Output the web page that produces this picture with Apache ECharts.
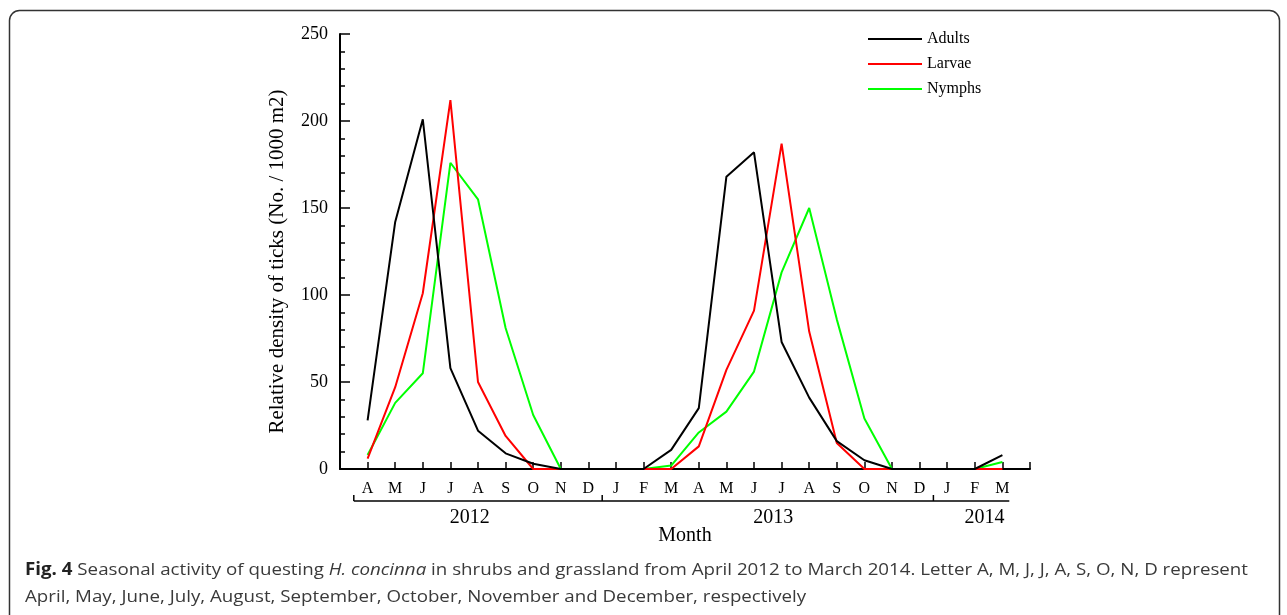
<!DOCTYPE html>
<html>
<head>
<meta charset="utf-8">
<script src="https://cdn.jsdelivr.net/npm/echarts@6/dist/echarts.min.js"></script>
<style>
html,body{margin:0;padding:0;background:#fff;}
#chart{width:1287px;height:615px;}
</style>
</head>
<body>
<div id="chart"></div>
<script>
// ---- data ----
var monthLabels = ['A','M','J','J','A','S','O','N','D','J','F','M','A','M','J','J','A','S','O','N','D','J','F','M'];
var adults = [28,142,201,58,22,9,3,0,0,0,0,11,35,168,182,73,41,16,5,0,0,0,0,8];
var larvae = [6,47,101,212,50,19,0,0,0,0,0,0,13,57,91,187,79,15,0,0,0,0,0,0];
var nymphs = [8,38,55,176,155,81,31,0,0,0,0,2,21,33,56,113,150,86,29,0,0,0,0,4];
var seriesNames = ['Adults','Larvae','Nymphs'];
var seriesColors = ['#000000','#ff0000','#00ff00'];
var yTicks = [0,50,100,150,200,250];
var yearLabels = ['2012','2013','2014'];
var yearLabelPos = [3.7, 14.7, 22.35];
var yearBreaks = [-0.5, 8.5, 20.5];
var yearEnd = 23.25;
var captionBold = 'Fig. 4';
var captionLine1a = ' Seasonal activity of questing ';
var captionItalic = 'H. concinna';
var captionLine1b = ' in shrubs and grassland from April 2012 to March 2014. Letter A, M, J, J, A, S, O, N, D represent';
var captionLine2 = 'April, May, June, July, August, September, October, November and December, respectively';

var SERIF = '"Liberation Serif", "Times New Roman", serif';
var SANS = '"Open Sans", "Noto Sans", sans-serif';

function toPairs(arr){ return arr.map(function(v,i){ return [i, v]; }); }

var chart = echarts.init(document.getElementById('chart'), null, {renderer:'canvas'});

var option = {
  animation: false,
  backgroundColor: '#ffffff',
  grid: { left: 340, right: 257, top: 34, bottom: 146, containLabel: false },
  legend: {
    data: seriesNames,
    orient: 'vertical',
    left: 868,
    top: 31,
    padding: 0,
    icon: 'rect',
    itemWidth: 54,
    itemHeight: 2,
    itemGap: 9,
    textStyle: { fontFamily: SERIF, fontSize: 16, color: '#000', lineHeight: 16 }
  },
  xAxis: {
    type: 'value',
    min: -1, max: 24, interval: 1,
    name: 'Month',
    nameLocation: 'middle',
    nameGap: 57,
    nameTextStyle: { fontFamily: SERIF, fontSize: 20, color: '#000' },
    axisLine: { show: true, onZero: false, lineStyle: { color: '#000', width: 2 } },
    axisTick: { show: true, inside: true, length: 7, lineStyle: { color: '#000', width: 1.5 } },
    axisLabel: {
      margin: 12,
      fontFamily: SERIF, fontSize: 16, color: '#000',
      showMinLabel: true, showMaxLabel: true,
      formatter: function(v){ var i = Math.round(v); return (i >= 0 && i < monthLabels.length) ? monthLabels[i] : ''; }
    },
    splitLine: { show: false }
  },
  yAxis: {
    type: 'value',
    min: 0, max: 250, interval: 50,
    name: 'Relative density of ticks (No. / 1000 m2)',
    nameLocation: 'middle',
    nameGap: 52,
    nameTextStyle: { fontFamily: SERIF, fontSize: 21, color: '#000', padding: [0, 20, 0, 0] },
    axisLine: { show: true, onZero: false, lineStyle: { color: '#000', width: 2 } },
    axisTick: { show: true, inside: true, length: 10, lineStyle: { color: '#000', width: 1.5 } },
    minorTick: { show: true, splitNumber: 5, length: 5, lineStyle: { color: '#000', width: 1.5 } },
    axisLabel: { margin: 12, fontFamily: SERIF, fontSize: 18, color: '#000',
      formatter: function(v){ return yTicks.indexOf(v) >= 0 ? String(v) : ''; } },
    splitLine: { show: false }
  },
  series: [adults, larvae, nymphs].map(function(arr, k){
    return {
      name: seriesNames[k],
      type: 'line',
      data: toPairs(arr),
      symbol: 'none',
      lineStyle: { color: seriesColors[k], width: 2 },
      itemStyle: { color: seriesColors[k] },
      z: 3 - k
    };
  })
};
chart.setOption(option);

// ---- annotations: year brackets, caption, border ----
function px(v){ return chart.convertToPixel({xAxisIndex:0}, v); }
var y0 = chart.convertToPixel({yAxisIndex:0}, 0);
var bracketY = y0 + 32;
var elements = [];
elements.push({
  type: 'line', silent: true,
  shape: { x1: px(yearBreaks[0]), y1: bracketY, x2: px(yearEnd), y2: bracketY },
  style: { stroke: '#000', lineWidth: 1.5 }
});
yearBreaks.forEach(function(b){
  elements.push({ type:'line', silent:true,
    shape: { x1: px(b), y1: bracketY, x2: px(b), y2: bracketY - 6 },
    style: { stroke:'#000', lineWidth: 1.5 } });
});
yearLabels.forEach(function(t, i){
  elements.push({ type:'text', silent:true, x: px(yearLabelPos[i]), y: bracketY + 7,
    style: { text: t, fontFamily: SERIF, fontSize: 20, fill:'#000', align:'center', verticalAlign:'top' } });
});

// caption: measure and compress horizontally to match original width
var ctx = document.createElement('canvas').getContext('2d');
var capSize = 17;
function w(txt, weight, styleI){ ctx.font = (styleI||'normal') + ' ' + (weight||'normal') + ' ' + capSize + 'px ' + SANS; return ctx.measureText(txt).width; }
var line1W = w(captionBold,'bold') + w(captionLine1a) + w(captionItalic,'normal','italic') + w(captionLine1b);
var targetW = 1223;
var sx = targetW / line1W;
elements.push({
  type:'text', silent:true, x: 25, y: 579, scaleX: sx, scaleY: 1,
  style: {
    text: '{b|' + captionBold + '}{n|' + captionLine1a + '}{i|' + captionItalic + '}{n|' + captionLine1b + '}',
    verticalAlign: 'bottom',
    rich: {
      b: { fontFamily: SANS, fontSize: capSize, fontWeight: 'bold', fill: '#222' },
      n: { fontFamily: SANS, fontSize: capSize, fill: '#3a3a3a' },
      i: { fontFamily: SANS, fontSize: capSize, fontStyle: 'italic', fill: '#3a3a3a' }
    }
  }
});
elements.push({
  type:'text', silent:true, x: 25, y: 606, scaleX: sx, scaleY: 1,
  style: { text: captionLine2, fontFamily: SANS, fontSize: capSize, fill:'#3a3a3a', verticalAlign:'bottom' }
});
elements.push({
  type:'rect', silent:true,
  shape: { x: 9.5, y: 10.5, width: 1270, height: 700, r: 10 },
  style: { fill: 'none', stroke: '#333', lineWidth: 1.5 }
});
chart.setOption({ graphic: { elements: elements } });
</script>
</body>
</html>
